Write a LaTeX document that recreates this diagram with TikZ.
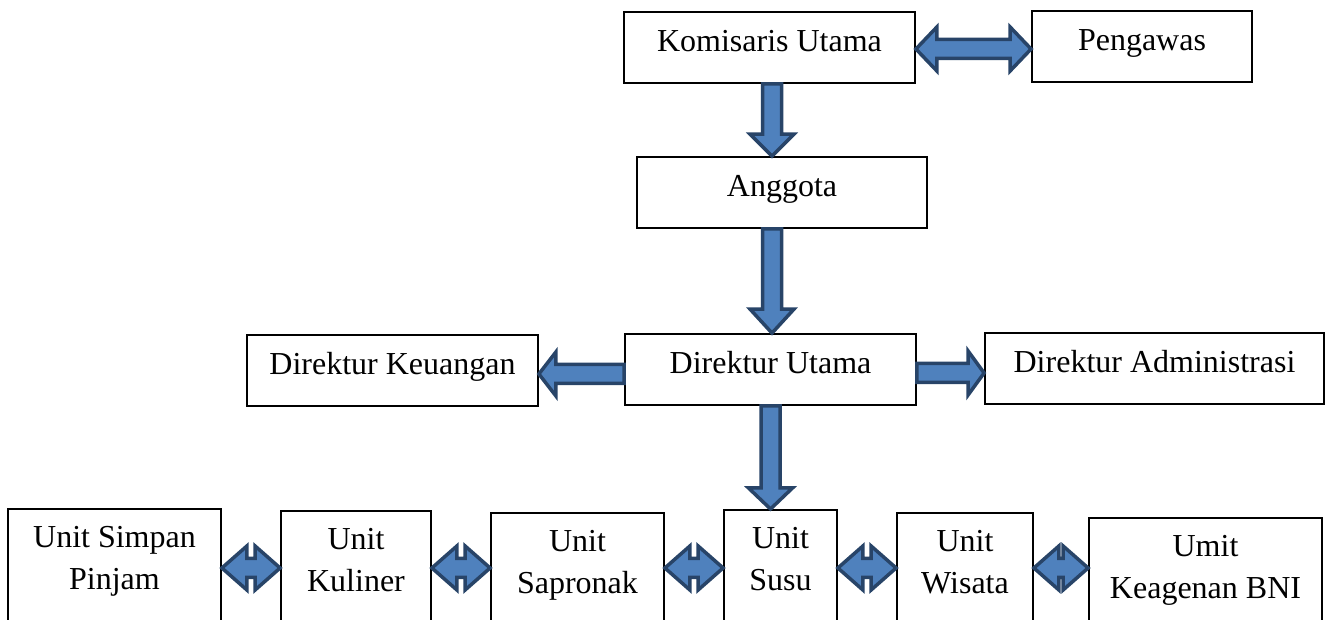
\documentclass[tikz,border=0pt]{standalone}
\usepackage{fontspec}
\setmainfont{Liberation Serif}
\usepackage{tikz}
\usetikzlibrary{calc,positioning}

\definecolor{arrowfill}{RGB}{79,129,189}
\definecolor{arrowline}{RGB}{40,68,104}

% block arrow: from, to, head length
\newcommand\fatarrow[3]{%
  \coordinate (hb) at ($(#2)!#3!(#1)$);
  \draw[fat] ($(#1)!9.5pt!90:(#2)$) -- ($(hb)!9.5pt!-90:(#1)$) -- ($(hb)!22pt!-90:(#1)$) -- (#2)
    -- ($(hb)!22pt!90:(#1)$) -- ($(hb)!9.5pt!90:(#1)$) -- ($(#1)!9.5pt!-90:(#2)$) -- cycle;}
% block arrow with two heads
\newcommand\fatboth[3]{%
  \coordinate (ha) at ($(#1)!#3!(#2)$);
  \coordinate (hb) at ($(#2)!#3!(#1)$);
  \draw[fat] (#1) -- ($(ha)!22pt!-90:(#2)$) -- ($(ha)!9.5pt!-90:(#2)$) -- ($(hb)!9.5pt!90:(#1)$)
    -- ($(hb)!22pt!90:(#1)$) -- (#2) -- ($(hb)!22pt!-90:(#1)$) -- ($(hb)!9.5pt!-90:(#1)$)
    -- ($(ha)!9.5pt!90:(#2)$) -- ($(ha)!22pt!90:(#2)$) -- cycle;}

\begin{document}
\begin{tikzpicture}[x=1pt, y=1pt, font=\fontsize{32}{42}\selectfont,
  box/.style={draw, line width=1.8pt, inner sep=0pt, minimum height=71pt, text height=22pt, text depth=13pt},
  unit/.style={draw, line width=1.8pt, inner sep=0pt, minimum height=150pt, anchor=north},
  unittext/.style={align=center, anchor=base, inner sep=0pt},
  fat/.style={draw=arrowline, fill=arrowfill, line width=3.5pt, line join=miter}]

\useasboundingbox (0,0) rectangle (1328,620);
\clip (0,0) rectangle (1328,620);

% pengurus
\node[box, minimum width=291pt] (kom) at (769.5,572.5) {Komisaris Utama};
\node[box, minimum width=220pt] (peng) at (1142,573.5) {Pengawas};
\node[box, minimum width=290pt] (ang) at (782,427.5) {Anggota};
\node[box, minimum width=291pt] (dirut) at (770.5,250.5) {Direktur Utama};
\node[box, minimum width=291pt] (dirkeu) at (392.5,249.5) {Direktur Keuangan};
\node[box, minimum width=339pt] (diradm) at (1154.5,251.5) {Direktur Administrasi};

% unit usaha
\node[unit, minimum width=213pt] (usp) at (114.5,112) {};
\node[unit, minimum width=150pt] (kul) at (356,110) {};
\node[unit, minimum width=173pt] (sap) at (577.5,108) {};
\node[unit, minimum width=113pt] (susu) at (780.5,111) {};
\node[unit, minimum width=136pt] (wis) at (965,108) {};
\node[unit, minimum width=233pt] (keag) at (1205.5,103) {};
\node[unittext] (usp-t) at ([yshift=-82pt]usp.north) {Unit Simpan\\Pinjam};
\node[unittext] (kul-t) at ([yshift=-82pt]kul.north) {Unit\\Kuliner};
\node[unittext] (sap-t) at ([yshift=-82pt]sap.north) {Unit\\Sapronak};
\node[unittext] (susu-t) at ([yshift=-82pt]susu.north) {Unit\\Susu};
\node[unittext] (wis-t) at ([yshift=-82pt]wis.north) {Unit\\Wisata};
\node[unittext] (keag-t) at ([yshift=-82pt]keag.north) {Umit\\Keagenan BNI};

% arrows
\coordinate (k1) at ([xshift=2.5pt]kom.south);
\coordinate (k2) at (k1 |- ang.north);
\fatarrow{k1}{k2}{22pt}
\coordinate (a1) at ([xshift=-10pt]ang.south);
\coordinate (a2) at (a1 |- dirut.north);
\fatarrow{a1}{a2}{24pt}
\coordinate (d1) at (dirut.south);
\coordinate (d2) at (d1 |- susu.north);
\fatarrow{d1}{d2}{21pt}
\coordinate (l1) at ([yshift=-4.5pt]dirut.west);
\coordinate (l2) at (l1 -| dirkeu.east);
\fatarrow{l1}{l2}{17pt}
\coordinate (r1) at ([yshift=-3.5pt]dirut.east);
\coordinate (r2) at (r1 -| diradm.west);
\fatarrow{r1}{r2}{16pt}
\coordinate (p1) at ([yshift=-1.5pt]kom.east);
\coordinate (p2) at (p1 -| peng.west);
\fatboth{p1}{p2}{21pt}

\coordinate (row) at (0,52);
\foreach \a/\b in {usp/kul, kul/sap, sap/susu, susu/wis, wis/keag}{
  \coordinate (s) at (\a.east |- row);
  \coordinate (t) at (\b.west |- row);
  \fatboth{s}{t}{25pt}
}
\end{tikzpicture}
\end{document}
